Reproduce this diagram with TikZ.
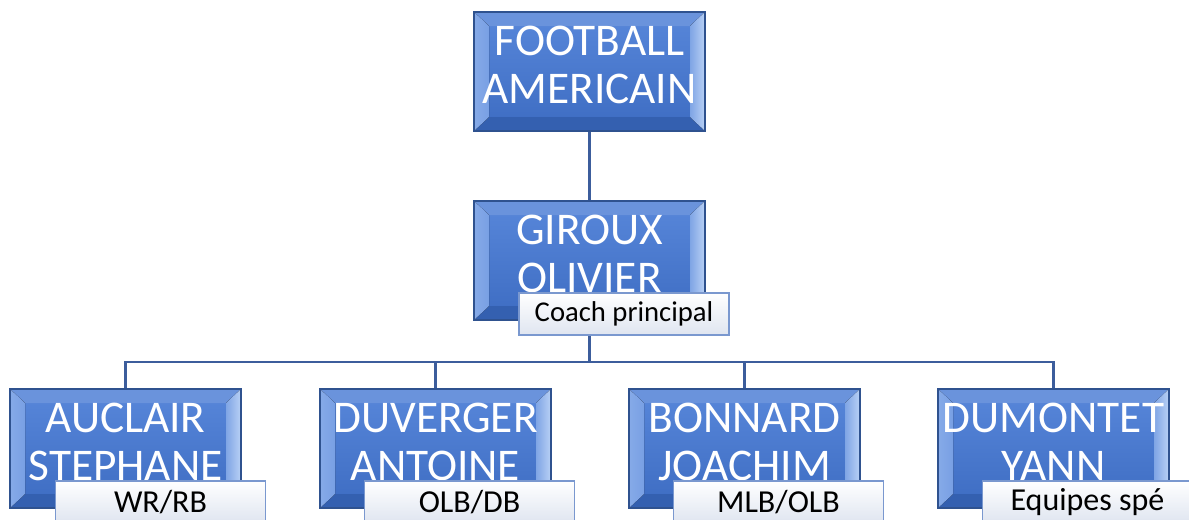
\documentclass[tikz,border=0pt]{standalone}
\usepackage{fontspec}
\setmainfont{Carlito}
\usetikzlibrary{calc,backgrounds}
\definecolor{boxtop}{HTML}{5887DA}
\definecolor{boxbot}{HTML}{3D6CC2}
\definecolor{boxedge}{HTML}{2F528F}
\definecolor{bevT}{HTML}{6A93DC}
\definecolor{bevL}{HTML}{86AAE8}
\definecolor{bevR}{HTML}{B9D1F5}
\definecolor{bevB}{HTML}{3460B0}
\definecolor{lbledge}{HTML}{7A98CF}
\definecolor{lblbot}{HTML}{DFE5F0}
\definecolor{conncol}{HTML}{3C5D9C}
\tikzset{
  bevbox/.style={rectangle, minimum width=173.25pt, minimum height=89.25pt, inner sep=0pt,
    top color=boxtop, bottom color=boxbot, draw=boxedge, line width=1pt,
    path picture={
      \coordinate (pnw) at (path picture bounding box.north west);
      \coordinate (pne) at (path picture bounding box.north east);
      \coordinate (psw) at (path picture bounding box.south west);
      \coordinate (pse) at (path picture bounding box.south east);
      \fill[bevT] (pnw) -- (pne) -- ($(pne)+(-15,14)$) -- ($(pnw)+(15,14)$) -- cycle;
      \fill[bevB] (psw) -- (pse) -- ($(pse)+(-15,-14)$) -- ($(psw)+(15,-14)$) -- cycle;
      \fill[left color=bevL, right color=bevL!70!boxtop] (pnw) -- ($(pnw)+(15,14)$) -- ($(psw)+(15,-14)$) -- (psw) -- cycle;
      \fill[left color=boxtop!60!bevR, right color=bevR] (pne) -- ($(pne)+(-15,14)$) -- ($(pse)+(-15,-14)$) -- (pse) -- cycle;
    }},
  boxtxt/.style={text=white, font=\fontsize{34}{36}\selectfont, align=center, inner sep=0pt},
  lblbox/.style={rectangle, minimum width=157.5pt, minimum height=31.5pt, inner sep=0pt,
    top color=white, bottom color=lblbot, draw=lbledge, line width=1pt, text=black},
  conn/.style={draw=conncol, line width=1.9pt},
}
\begin{document}
\begin{tikzpicture}[x=0.75pt, y=-0.75pt]
\useasboundingbox (0,0) rectangle (1189,519);
\clip (0,0) rectangle (1189,519);
\coordinate (j) at (589.5,362);
\node[bevbox] (b1) at (589.5,71.5) {};
\node[bevbox] (b2) at (589.5,260.5) {};
\node[bevbox] (c1) at (125.5,448.5) {};
\node[bevbox] (c2) at (435.5,448.5) {};
\node[bevbox] (c3) at (744.5,448.5) {};
\node[bevbox] (c4) at (1053.5,448.5) {};
\begin{pgfonlayer}{background}
\draw[conn] (b1.south) -- (b2.north);
\draw[conn] (b2.south) -- (j);
\draw[conn] (j) -| (c1.north);
\draw[conn] (j) -| (c2.north);
\draw[conn] (j) -| (c3.north);
\draw[conn] (j) -| (c4.north);
\end{pgfonlayer}
% texts
\node[boxtxt] (t1) at ($(b1.center)+(0,-7)$) {FOOTBALL\\AMERICAIN};
\node[boxtxt] (t2) at ($(b2.center)+(0,-7)$) {GIROUX\\OLIVIER};
\node[boxtxt] (u1) at ($(c1.center)+(0,-7)$) {AUCLAIR\\STEPHANE};
\node[boxtxt] (u2) at ($(c2.center)+(0,-7)$) {DUVERGER\\ANTOINE};
\node[boxtxt] (u3) at ($(c3.center)+(0,-7)$) {BONNARD\\JOACHIM};
\node[boxtxt] (u4) at ($(c4.center)+(0,-7)$) {DUMONTET\\YANN};
% labels
\node[lblbox, font=\fontsize{21.5}{24}\selectfont] (l2) at (624,314) {Coach principal};
\node[lblbox, font=\fontsize{24}{26}\selectfont] (k1) at (160.5,502) {WR/RB};
\node[lblbox, font=\fontsize{24}{26}\selectfont] (k2) at (469.5,502) {OLB/DB};
\node[lblbox, font=\fontsize{24}{26}\selectfont] (k3) at (778.5,502) {MLB/OLB};
\node[lblbox, font=\fontsize{24}{26}\selectfont] (k4) at (1087.5,502) {Equipes spé};
\end{tikzpicture}
\end{document}
